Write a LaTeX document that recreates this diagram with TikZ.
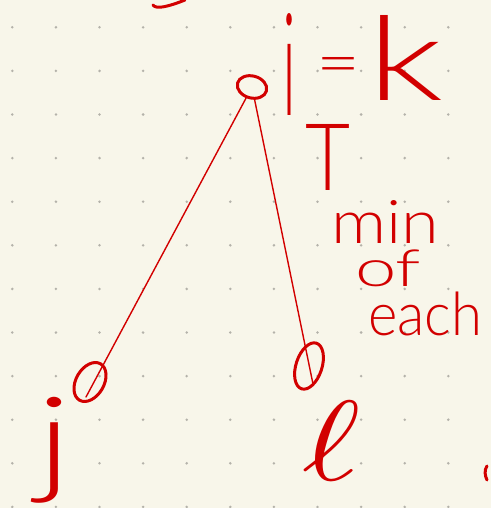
\documentclass[tikz,border=0pt]{standalone}
\usepackage{graphicx}
\usepackage{fontspec}
\IfFontExistsTF{Lato Light}{\newfontfamily\handfont{Lato Light}}{\newfontfamily\handfont{Lato}}
\usetikzlibrary{shapes.geometric}
\definecolor{paper}{RGB}{248,246,234}
\definecolor{ink}{RGB}{210,0,0}
\definecolor{dotc}{RGB}{180,178,170}
\tikzset{
  inkline/.style={draw=ink, line width=3pt, line cap=round, line join=round},
  edgeline/.style={draw=ink, line width=1.4pt, line cap=round},
  vert/.style={ellipse, draw=ink, line width=3pt, inner sep=0pt},
  hand/.style={text=ink, inner sep=0pt, font=\handfont, anchor=north west},
}
\begin{document}
\begin{tikzpicture}[x=1pt,y=-1pt]
\fill[paper] (0,0) rectangle (491,508);
\useasboundingbox (0,0) rectangle (491,508);
\foreach \i in {0,...,10} \foreach \j in {0,...,11}
  \fill[dotc] (12.3+43.6*\i, 27.3+43.6*\j) circle (1.4pt);
% vertices
\node[vert, minimum width=30pt, minimum height=22pt, rotate=-15] (ni) at (252,87) {};
\node[vert, minimum width=28pt, minimum height=42pt, rotate=-30] (nj) at (90,382) {};
\node[vert, minimum width=26pt, minimum height=48pt, rotate=-18] (nl) at (309,366) {};
% connectors
\coordinate (jend) at (86,397);
\coordinate (lend) at (313,384);
\draw[edgeline] (ni) -- (jend);
\draw[edgeline] (ni) -- (lend);
% labels
\node[hand] (tik) at (282,13) {\resizebox*{14pt}{102pt}{i}\hspace{20pt}%
  \raisebox{30pt}{\resizebox*{44pt}{28pt}{=}}\hspace{7pt}%
  \raisebox{15pt}{\resizebox*{76pt}{85pt}{k}}};
\node[hand] (tT) at (305,124) {\resizebox*{45pt}{66pt}{T}};
\node[hand] (tmin) at (331,200) {\resizebox*{108pt}{43pt}{min}};
\node[hand] (tof) at (355,250) {\resizebox*{66pt}{37pt}{of}};
\node[hand] (teach) at (368,292) {\resizebox*{114pt}{44pt}{each}};
\node[hand] (tj) at (36,397) {\resizebox*{36pt}{106pt}{j}};
\node[hand] (tl) at (302,401) {\resizebox*{58pt}{79pt}{$\ell$}};
% cut-off strokes at the edges
\draw[inkline] (185,0) .. controls (170,6) and (156,10) .. (153,5);
\draw[inkline] (487,466) .. controls (484,470) and (485,476) .. (487,480);
\end{tikzpicture}
\end{document}
